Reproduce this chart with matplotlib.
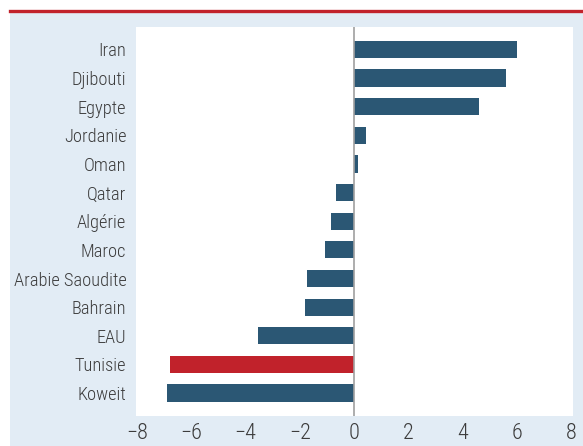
import matplotlib.pyplot as plt
from matplotlib import font_manager
from matplotlib.patches import Rectangle
from matplotlib.lines import Line2D

countries = ['Iran', 'Djibouti', 'Egypte', 'Jordanie', 'Oman', 'Qatar', 'Algérie',
             'Maroc', 'Arabie Saoudite', 'Bahrain', 'EAU', 'Tunisie', 'Koweit']
values = [6.0, 5.6, 4.6, 0.43, 0.13, -0.67, -0.85, -1.07, -1.75, -1.82, -3.55, -6.8, -6.9]
xticks = [-8, -6, -4, -2, 0, 2, 4, 6, 8]

# narrow font if there is one
names = {f.name for f in font_manager.fontManager.ttflist}
fam = 'Roboto Condensed' if 'Roboto Condensed' in names else 'DejaVu Sans'
plt.rcParams['font.family'] = fam
plt.rcParams['font.weight'] = 'light'

blue = '#2b5774'
red = '#c1222b'
bg = '#e2ecf5'
txt = '#3c3c3c'

fig = plt.figure(figsize=(5.83, 4.46), dpi=100)
fig.patch.set_facecolor('white')
# light blue panel and red rule at top
fig.patches.append(Rectangle((10 / 583, 0), 1, 1 - 12 / 446, transform=fig.transFigure,
                             facecolor=bg, edgecolor='none', zorder=-5))
fig.lines.append(Line2D([10 / 583, 1], [1 - 10.5 / 446, 1 - 10.5 / 446], transform=fig.transFigure,
                        color=red, lw=2.4, zorder=-4))

ax = fig.add_axes([136 / 583, 1 - 416 / 446, (573 - 136) / 583, (416 - 27) / 446])
ax.set_zorder(1)
ax.set_facecolor('white')
colors = [red if c == 'Tunisie' else blue for c in countries]
ax.barh(range(len(countries)), values, height=0.6, color=colors, zorder=2)
ax.axvline(0, color='#a0a0a0', lw=1.2, zorder=3)
ax.set_xlim(-8.04, 8.07)
ax.set_ylim(12.8, -0.78)
ax.set_yticks(range(len(countries)))
ax.set_yticklabels(countries, fontsize=13.2)
ax.set_xticks(xticks)
ax.set_xticklabels([str(t).replace('-', '\u2212') for t in xticks], fontsize=16)
ax.tick_params(axis='y', length=0, colors=txt, pad=7)
ax.tick_params(axis='x', length=0, colors=txt, pad=5)
for s in ax.spines.values():
    s.set_visible(False)

fig.savefig('out.png', dpi=100)
